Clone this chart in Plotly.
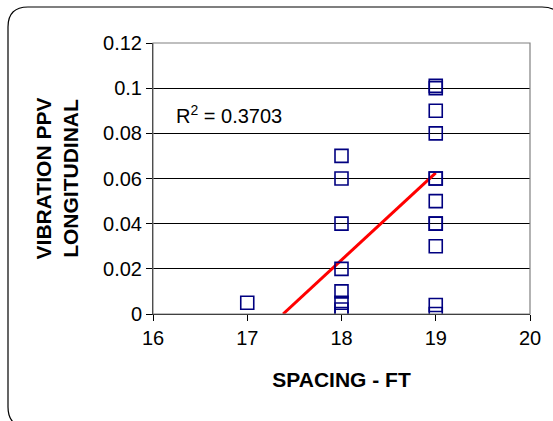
import plotly.graph_objects as go

spacing_ft = [17,
              18, 18, 18, 18, 18, 18, 18, 18,
              19, 19, 19, 19, 19, 19, 19, 19, 19, 19, 19, 19]
ppv_long = [0.005,
            0.07, 0.06, 0.04, 0.02, 0.01, 0.005, 0.002, 0.0,
            0.1, 0.101, 0.09, 0.08, 0.06, 0.06, 0.05, 0.04, 0.04, 0.03, 0.004, 0.0]
trend_x = [17.38, 19.0]
trend_y = [0.0, 0.0625]
r2_text = "R<sup>2</sup> = 0.3703"
x_ticks = [16, 17, 18, 19, 20]
y_ticks = [0, 0.02, 0.04, 0.06, 0.08, 0.1, 0.12]
y_tick_text = ["0", "0.02", "0.04", "0.06", "0.08", "0.1", "0.12"]

W, H = 553, 421
L, R, T, B = 153, 23, 43, 107
pw, ph = W - L - R, H - T - B

def px(x):
    return (x - L) / pw

def py(y):
    return (H - B - y) / ph

FONT = "Liberation Sans, Arial"

fig = go.Figure()
fig.add_trace(go.Scatter(x=trend_x, y=trend_y, mode="lines",
                         line=dict(color="#ff0000", width=3), showlegend=False))
fig.add_trace(go.Scatter(x=spacing_ft, y=ppv_long, mode="markers",
                         marker=dict(symbol="square-open", size=13,
                                     color="#000080", line=dict(width=1.6)),
                         showlegend=False))

# rounded outer border
x0, y0, x1, y1, rr = 8, 7, 562, 427, 20
path = (f"M {px(x0+rr)} {py(y0)} L {px(x1-rr)} {py(y0)} "
        f"Q {px(x1)} {py(y0)} {px(x1)} {py(y0+rr)} "
        f"L {px(x1)} {py(y1-rr)} Q {px(x1)} {py(y1)} {px(x1-rr)} {py(y1)} "
        f"L {px(x0+rr)} {py(y1)} Q {px(x0)} {py(y1)} {px(x0)} {py(y1-rr)} "
        f"L {px(x0)} {py(y0+rr)} Q {px(x0)} {py(y0)} {px(x0+rr)} {py(y0)} Z")
fig.add_shape(type="path", path=path, xref="paper", yref="paper",
              line=dict(color="black", width=1.2), layer="below")
# top/right gray frame
fig.add_shape(type="rect", x0=0, y0=0, x1=1, y1=1, xref="paper", yref="paper",
              line=dict(color="#808080", width=1.2))

fig.add_annotation(x=16.22, y=0.0885, xref="x", yref="y", text=r2_text,
                   showarrow=False, xanchor="left", yanchor="middle",
                   font=dict(family=FONT, size=20, color="black"))

fig.update_layout(
    width=W, height=H,
    margin=dict(l=L, r=R, t=T, b=B),
    paper_bgcolor="white", plot_bgcolor="white",
    font=dict(family=FONT, size=20, color="black"),
    xaxis=dict(range=[16, 20], tickvals=x_ticks, ticks="outside", ticklen=6,
               tickcolor="black", showline=True, linecolor="black", linewidth=1,
               showgrid=False, zeroline=False, tickfont=dict(size=20),
               title=dict(text="<b>SPACING - FT</b>", standoff=24,
                          font=dict(size=21))),
    yaxis=dict(range=[0, 0.12], tickvals=y_ticks, ticktext=y_tick_text,
               ticks="outside", ticklen=6, tickcolor="black",
               showline=True, linecolor="black", linewidth=1,
               showgrid=True, gridcolor="black", gridwidth=1, zeroline=False,
               tickfont=dict(size=20),
               title=dict(text="<b>VIBRATION PPV<br>LONGITUDINAL</b>", standoff=18,
                          font=dict(size=21))),
)
fig.write_html("out.html", config={"displayModeBar": False},
               post_script="document.body.style.margin='0';")
